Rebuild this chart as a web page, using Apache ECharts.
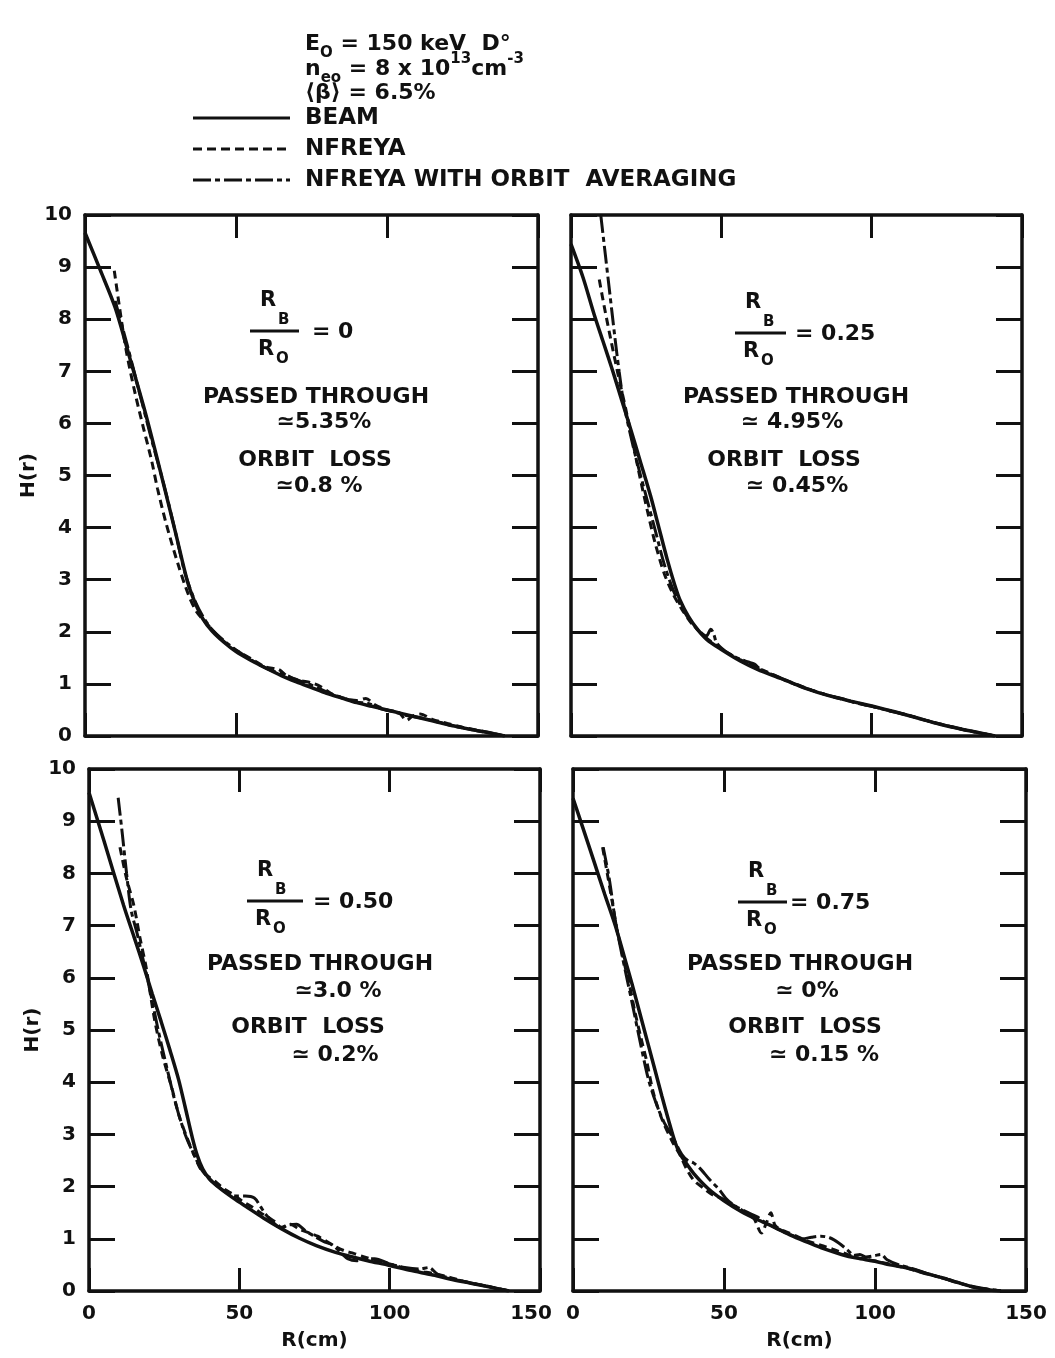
<!DOCTYPE html>
<html>
<head>
<meta charset="utf-8">
<script src="https://cdn.jsdelivr.net/npm/echarts@6/dist/echarts.min.js"></script>
<style>
  html, body { margin: 0; padding: 0; background: #fff; }
  #chart { width: 1055px; height: 1358px; }
</style>
</head>
<body>
<div id="chart"></div>
<script>
// Deposition profiles H(r) vs R(cm): beam code, NFREYA, NFREYA with orbit averaging,
// for four values of R_B / R_0.

// ---- R_B/R_0 = 0 ----
const beam0 = [[0,9.66],[5,8.95],[10,8.22],[15,7.22],[20,6.2],[25,5.07],[30,3.9],[34,2.95],[36.5,2.55],[39,2.25],[42,2.02],[46,1.8],[50,1.62],[55,1.45],[60,1.3],[65,1.16],[70,1.04],[75,0.93],[80,0.82],[85,0.73],[90,0.64],[95,0.57],[100,0.5],[105,0.43],[110,0.36],[115,0.29],[120,0.22],[125,0.16],[130,0.1],[135,0.05],[139,0]];
const nfreya0 = [[9.7,8.93],[11.5,8.2],[13.7,7.38],[16.5,6.6],[19.4,5.9],[22,5.3],[24,4.75],[27,4.05],[30.8,3.3],[34.2,2.72],[37,2.38],[40,2.18],[44,1.92],[48,1.72],[52,1.58],[56,1.45],[60,1.32],[64,1.28],[67,1.15],[71,1.07],[75,1.02],[78,0.95],[82,0.8],[86,0.72],[90,0.68],[93,0.72],[96,0.6],[100,0.5],[104,0.45],[106.5,0.3],[108.5,0.38],[111,0.42],[115,0.32],[120,0.24],[125,0.17],[130,0.11],[135,0.05],[139,0]];
const orbit0 = [[10,8.35],[14,7.5],[18,6.6],[22,5.7],[26,4.85],[30,3.9],[33,3.15],[36,2.65],[39,2.3],[42,2.05],[46,1.83],[50,1.65],[54,1.5],[58,1.36],[62,1.25],[66,1.18],[70,1.08],[74,1.0],[78,0.9],[82,0.8],[86,0.72],[90,0.65],[94,0.62],[98,0.52],[102,0.47],[106,0.4],[110,0.36],[115,0.3],[120,0.22],[128,0.12],[135,0.05],[139,0]];

// ---- R_B/R_0 = 0.25 ----
const beam25 = [[0,9.44],[4,8.8],[7.7,8.09],[10.5,7.6],[13.8,7.02],[17,6.42],[19.9,5.88],[23,5.28],[26.5,4.6],[29,4.05],[32,3.39],[34.5,2.9],[36.4,2.59],[39,2.3],[42,2.05],[45.2,1.85],[50,1.66],[56.3,1.44],[62,1.28],[70,1.1],[78.3,0.91],[86,0.77],[93,0.67],[100.4,0.57],[108,0.46],[115,0.35],[122.4,0.23],[130,0.13],[136,0.06],[141,0]];
const nfreya25 = [[9.4,8.76],[11.2,8.2],[13.2,7.62],[15.5,6.98],[18.2,6.28],[20.5,5.65],[23,4.95],[25.5,4.3],[28,3.7],[31,3.12],[34,2.72],[37,2.42],[40,2.17],[44,1.93],[48,1.75],[52,1.6],[56,1.47],[60,1.36],[64,1.26],[68,1.16],[72,1.06],[76,0.97],[80,0.88],[85,0.79],[90,0.71],[95,0.64],[100,0.57],[105,0.5],[110,0.43],[115,0.35],[120,0.27],[125,0.2],[130,0.13],[135,0.07],[141,0]];
const orbit25 = [[9.9,10],[11.5,9.2],[13,8.45],[14.5,7.7],[16,7.0],[17.5,6.4],[19.5,5.85],[22,5.25],[25,4.6],[28,3.95],[31,3.3],[34,2.8],[37,2.45],[40,2.18],[43,2.0],[45,1.92],[46.5,2.05],[47.5,1.95],[48.5,1.78],[52,1.6],[56,1.48],[59,1.42],[61,1.38],[63,1.28],[66,1.2],[70,1.1],[75,0.98],[80,0.88],[85,0.79],[90,0.72],[95,0.63],[100,0.57],[106,0.48],[112,0.4],[118,0.3],[124,0.21],[130,0.13],[136,0.06],[141,0]];

// ---- R_B/R_0 = 0.50 ----
const beam50 = [[0,9.55],[5,8.62],[11.5,7.39],[15,6.78],[18.3,6.2],[21,5.7],[24,5.16],[27,4.6],[29.8,4.05],[32,3.52],[34.4,2.93],[36,2.6],[37.8,2.34],[40,2.15],[43.5,1.97],[48,1.78],[52.7,1.6],[58,1.4],[64.1,1.19],[70,1.01],[75.6,0.87],[82,0.74],[87,0.66],[92.7,0.58],[100,0.49],[105,0.42],[110,0.36],[115,0.3],[120,0.23],[127,0.15],[133,0.08],[139.7,0]];
const nfreya50 = [[10.3,8.5],[12.5,7.9],[14.9,7.39],[17,6.75],[19,6.2],[21.8,5.2],[24.5,4.5],[27.5,3.9],[30,3.35],[32.5,2.95],[35,2.6],[37,2.35],[39.5,2.2],[42,2.1],[45,1.95],[48,1.85],[51,1.72],[54,1.62],[57,1.5],[60,1.4],[62,1.32],[64,1.22],[67,1.28],[70,1.18],[73,1.12],[76,1.05],[79,0.95],[82,0.85],[85,0.77],[88,0.72],[91,0.66],[95,0.6],[100,0.52],[105,0.44],[110,0.38],[115,0.33],[120,0.26],[125,0.18],[130,0.12],[135,0.06],[139.7,0]];
const orbit50 = [[9.7,9.45],[11,8.8],[12.5,8.0],[14,7.3],[16,6.85],[18,6.35],[20.5,5.7],[23,5.0],[26,4.25],[29,3.55],[32,3.0],[35,2.6],[37.5,2.32],[40,2.15],[43,2.0],[46,1.88],[49,1.82],[52,1.82],[55,1.78],[57,1.62],[59,1.45],[61.5,1.3],[64,1.2],[66,1.26],[69,1.28],[72,1.15],[75,1.05],[78,0.95],[81,0.88],[84,0.72],[86,0.62],[89,0.58],[92,0.62],[95,0.62],[100,0.52],[105,0.45],[110,0.42],[113,0.45],[116,0.32],[122,0.22],[128,0.14],[134,0.07],[139.7,0]];

// ---- R_B/R_0 = 0.75 ----
const beam75 = [[0,9.44],[3,8.92],[7,8.22],[10.5,7.6],[14,7.0],[17,6.4],[19.5,5.89],[22,5.35],[25,4.7],[27.3,4.2],[29.4,3.74],[31.5,3.3],[33.8,2.85],[35.5,2.62],[37.1,2.48],[40,2.25],[44.8,1.96],[50,1.73],[55.8,1.52],[61,1.37],[66.8,1.22],[72,1.07],[77.8,0.93],[83,0.81],[88.9,0.7],[94,0.63],[100,0.57],[105,0.5],[110.9,0.44],[116,0.35],[121.9,0.26],[127,0.17],[132.9,0.07],[138,0.02],[141.7,0]];
const nfreya75 = [[9.8,8.5],[11.5,7.95],[13,7.45],[14.5,6.95],[16,6.55],[17.3,6.2],[18.6,5.89],[20.5,5.35],[22.5,4.85],[24.4,4.4],[26.6,3.8],[29.4,3.3],[33,2.85],[35.5,2.6],[37.5,2.35],[40,2.12],[43,1.98],[46,1.85],[49,1.78],[52,1.68],[55,1.58],[58,1.47],[60,1.38],[62.4,1.11],[64,1.3],[65.5,1.5],[67,1.25],[70,1.15],[74,1.05],[78,0.95],[82,0.88],[86,0.8],[90,0.72],[94,0.64],[98,0.6],[102,0.55],[106,0.5],[111,0.43],[116,0.35],[122,0.26],[127,0.17],[133,0.07],[141.7,0]];
const orbit75 = [[10,8.5],[12,7.9],[14,7.1],[16,6.5],[18,5.95],[20,5.4],[22.5,4.7],[25,4.05],[27.5,3.6],[30,3.25],[33,2.95],[36,2.62],[38,2.5],[40,2.45],[42.5,2.32],[45,2.15],[47.5,2.0],[49,1.9],[51,1.75],[54,1.62],[58,1.5],[61,1.42],[64,1.3],[68,1.18],[72,1.08],[76,1.0],[79,1.03],[82,1.05],[85,1.02],[88,0.92],[91,0.78],[93,0.68],[95,0.7],[97,0.65],[100,0.68],[102,0.7],[104,0.6],[108,0.5],[113,0.42],[118,0.32],[124,0.22],[130,0.12],[136,0.05],[141.7,0]];

// Panel annotations
const ratioLabels = ['0', '0.25', '0.50', '0.75'];
const passedLabels = ['\u22435.35%', '\u2243 4.95%', '\u22433.0 %', '\u2243 0%'];
const lossLabels = ['\u22430.8 %', '\u2243 0.45%', '\u2243 0.2%', '\u2243 0.15 %'];
const seriesNames = ['BEAM', 'NFREYA', 'NFREYA WITH ORBIT  AVERAGING'];
const xTicks = [0, 50, 100, 150];
const yTicks = [0, 1, 2, 3, 4, 5, 6, 7, 8, 9, 10];

const panelData = [
  [beam0, nfreya0, orbit0],
  [beam25, nfreya25, orbit25],
  [beam50, nfreya50, orbit50],
  [beam75, nfreya75, orbit75]
];

// ---- layout & style ----
const INK = '#111';
const FONT = 'DejaVu Sans';
const grids = [
  { left: 85, top: 215, width: 453, height: 521 },
  { left: 571, top: 215, width: 451, height: 521 },
  { left: 89, top: 769, width: 451, height: 522 },
  { left: 573, top: 769, width: 453, height: 522 }
];
const lineTypes = ['solid', [8, 5], [18, 4, 5, 4]];
const lineWidths = [3.5, 3, 3];

const xAxes = [], yAxes = [], series = [];
grids.forEach((g, i) => {
  const bottomRow = i >= 2, leftCol = i % 2 === 0;
  const axisLine = { show: true, onZero: false, lineStyle: { color: INK, width: 3.5 } };
  const labelFont = { color: INK, fontFamily: FONT, fontWeight: 'bold', fontSize: 20 };
  ['bottom', 'top'].forEach((pos) => {
    const labelled = pos === 'bottom' && bottomRow;
    xAxes.push({
      type: 'value', gridIndex: i, position: pos,
      min: xTicks[0], max: xTicks[xTicks.length - 1], interval: xTicks[1] - xTicks[0],
      axisLine, splitLine: { show: false },
      axisTick: { show: true, inside: true, length: 23, lineStyle: { color: INK, width: 3 } },
      axisLabel: Object.assign({
        show: labelled, margin: 13,
        formatter: (v) => (i === 2 && v === 150) ? '{s|150}' : String(v),
        rich: { s: Object.assign({ padding: [0, 18, 0, 0] }, labelFont) }
      }, labelFont),
      name: labelled ? 'R(cm)' : '', nameLocation: 'middle', nameGap: 40,
      nameTextStyle: labelFont
    });
  });
  ['left', 'right'].forEach((pos) => {
    const labelled = pos === 'left' && leftCol;
    yAxes.push({
      type: 'value', gridIndex: i, position: pos,
      min: yTicks[0], max: yTicks[yTicks.length - 1], interval: yTicks[1] - yTicks[0],
      axisLine, splitLine: { show: false },
      axisTick: { show: true, inside: true, length: 26, lineStyle: { color: INK, width: 3 } },
      axisLabel: Object.assign({ show: labelled, margin: 13 }, labelFont),
      name: labelled ? 'H(r)' : '', nameLocation: 'middle', nameGap: 46, nameRotate: 90,
      nameTextStyle: labelFont
    });
  });
  panelData[i].forEach((d, k) => {
    series.push({
      name: seriesNames[k], type: 'line', data: d,
      xAxisIndex: 2 * i, yAxisIndex: 2 * i,
      showSymbol: false, symbol: 'none', smooth: 0.3,
      itemStyle: { color: INK },
      lineStyle: { color: INK, width: lineWidths[k], type: lineTypes[k], cap: 'butt' },
      z: 3 - k
    });
  });
});

// ---- text blocks ----
const T = (text, x, y, size, align, extra) => ({
  type: 'text', x, y, silent: true,
  style: Object.assign({ text, fill: INK, fontFamily: FONT, fontWeight: 'bold', fontSize: size,
    align: align || 'left', verticalAlign: 'middle' }, extra || {})
});

const graphics = [];
// header
const hdrRich = {
  m: { fontFamily: FONT, fontWeight: 'bold', fontSize: 22, lineHeight: 34, verticalAlign: 'middle', fill: INK },
  s: { fontFamily: FONT, fontWeight: 'bold', fontSize: 15, lineHeight: 14, verticalAlign: 'bottom', fill: INK },
  u: { fontFamily: FONT, fontWeight: 'bold', fontSize: 15, lineHeight: 14, verticalAlign: 'top', fill: INK }
};
graphics.push(T('{m|E}{s|O}{m| = 150 keV  D\u00b0}', 305, 44, 22, 'left', { rich: hdrRich }));
graphics.push(T('{m|n}{s|eo}{m| = 8 x 10}{u|13}{m|cm}{u|-3}', 305, 69, 22, 'left', { rich: hdrRich }));
graphics.push(T('\u27e8\u03b2\u27e9 = 6.5%', 305, 93, 22));

// key: line samples with their labels
const keyY = [118, 149, 180];
seriesNames.forEach((name, k) => {
  graphics.push({ type: 'line', silent: true,
    shape: { x1: 193, y1: keyY[k], x2: 290, y2: keyY[k] },
    style: { stroke: INK, lineWidth: 3, lineDash: k === 0 ? null : (k === 1 ? [9, 5] : [18, 4, 5, 4]) } });
  graphics.push(T(name, 305, keyY[k], 23));
});

// per-panel annotation positions
const notes = [
  { barL: 250, barY: 331, barW: 49, valX: 312, lines: [[316, 397], [324, 422], [315, 460], [319, 486]] },
  { barL: 735, barY: 333, barW: 51, valX: 795, lines: [[796, 397], [792, 422], [784, 460], [797, 486]] },
  { barL: 247, barY: 901, barW: 56, valX: 313, lines: [[320, 964], [338, 991], [308, 1027], [335, 1055]] },
  { barL: 738, barY: 902, barW: 49, valX: 790, lines: [[800, 964], [807, 991], [805, 1027], [824, 1055]] }
];
notes.forEach((n, i) => {
  graphics.push({ type: 'line', silent: true,
    shape: { x1: n.barL, y1: n.barY, x2: n.barL + n.barW, y2: n.barY },
    style: { stroke: INK, lineWidth: 3 } });
  graphics.push(T('R', n.barL + 10, n.barY - 30, 21));
  graphics.push(T('B', n.barL + 28, n.barY - 11, 15));
  graphics.push(T('R', n.barL + 8, n.barY + 19, 21));
  graphics.push(T('O', n.barL + 26, n.barY + 28, 15));
  graphics.push(T('= ' + ratioLabels[i], n.valX, n.barY + 1, 22));
  const txt = ['PASSED THROUGH', passedLabels[i], 'ORBIT  LOSS', lossLabels[i]];
  txt.forEach((s, k) => graphics.push(T(s, n.lines[k][0], n.lines[k][1], 22, 'center')));
});

const chart = echarts.init(document.getElementById('chart'), null, { renderer: 'canvas' });
chart.setOption({
  backgroundColor: '#fff',
  animation: false,
  grid: grids.map((g) => Object.assign({ containLabel: false }, g)),
  xAxis: xAxes,
  yAxis: yAxes,
  series,
  graphic: graphics
});
</script>
</body>
</html>
